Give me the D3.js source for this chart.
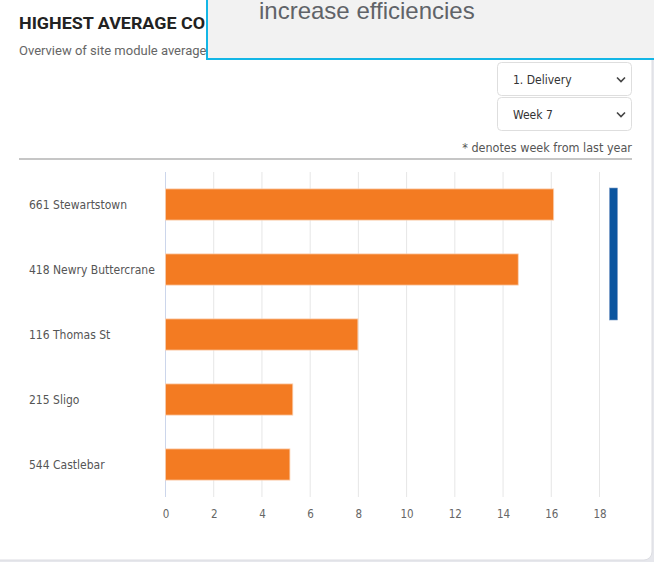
<!DOCTYPE html>
<html>
<head>
<meta charset="utf-8">
<script src="https://cdn.jsdelivr.net/npm/d3@7"></script>
<style>
  html, body { margin: 0; padding: 0; background: #e6e7ec; overflow: hidden; }
  svg { display: block; }
</style>
</head>
<body>
<div id="chart"></div>
<script>
// Data
const sites = ['661 Stewartstown', '418 Newry Buttercrane', '116 Thomas St', '215 Sligo', '544 Castlebar'];
const averages = [16.1, 14.63, 7.98, 5.28, 5.16];
const xTicks = [0, 2, 4, 6, 8, 10, 12, 14, 16, 18];
const moduleOptions = ['1. Delivery'];
const weekOptions = ['Week 7'];

const width = 654;
const height = 562;
const labelFont = '"DejaVu Sans Condensed", "Liberation Sans Narrow", sans-serif';

const svg = d3.select('#chart')
  .append('svg')
  .attr('width', width)
  .attr('height', height);

// Card
svg.append('rect')
  .attr('x', -10)
  .attr('y', -10)
  .attr('width', 662)
  .attr('height', 570)
  .attr('rx', 8)
  .attr('fill', '#fff')
  .attr('stroke', '#dcdde2');

// Header
svg.append('text')
  .attr('x', 19)
  .attr('y', 29)
  .attr('font-family', 'Roboto, sans-serif')
  .attr('font-weight', 700)
  .attr('font-size', 16.5)
  .attr('fill', '#222')
  .attr('textLength', 186)
  .attr('lengthAdjust', 'spacingAndGlyphs')
  .text('HIGHEST AVERAGE CO');

svg.append('text')
  .attr('x', 19)
  .attr('y', 55)
  .attr('font-family', 'Roboto, sans-serif')
  .attr('font-size', 13)
  .attr('fill', '#666')
  .text('Overview of site module average');

// Dropdowns
const selects = [
  { y: 62.5, text: moduleOptions[0] },
  { y: 97.5, text: weekOptions[0] },
];
const sel = svg.selectAll('.sel')
  .data(selects)
  .enter().append('g')
  .attr('class', 'sel');
sel.append('rect')
  .attr('x', 497.5)
  .attr('y', d => d.y)
  .attr('width', 134)
  .attr('height', 33)
  .attr('rx', 4)
  .attr('fill', '#fff')
  .attr('stroke', '#dedede');
sel.append('text')
  .attr('x', 513)
  .attr('y', d => d.y + 21)
  .attr('font-family', labelFont)
  .attr('font-size', 12)
  .attr('fill', '#333')
  .text(d => d.text);
sel.append('path')
  .attr('d', d => `M617,${d.y + 15}l4,4l4,-4`)
  .attr('fill', 'none')
  .attr('stroke', '#444')
  .attr('stroke-width', 1.6);

svg.append('text')
  .attr('x', 632)
  .attr('y', 152)
  .attr('text-anchor', 'end')
  .attr('font-family', labelFont)
  .attr('font-size', 12.5)
  .attr('fill', '#555')
  .text('* denotes week from last year');

svg.append('line')
  .attr('x1', 19)
  .attr('x2', 632)
  .attr('y1', 159)
  .attr('y2', 159)
  .attr('stroke', '#c6c6c6')
  .attr('stroke-width', 2);

// Scales
const x = d3.scaleLinear().domain([0, 18]).range([165.5, 599.5]);
const y = d3.scaleBand().domain(sites).range([172, 497])
  .paddingInner(0.52)
  .paddingOuter(0.26);

// Grid lines
svg.append('g')
  .selectAll('line')
  .data(xTicks)
  .enter().append('line')
  .attr('x1', d => x(d))
  .attr('x2', d => x(d))
  .attr('y1', 172)
  .attr('y2', 497)
  .attr('stroke', d => (d === 0 ? '#ccd6eb' : '#e6e6e6'))
  .attr('stroke-width', 1);

// X axis
const xAxis = svg.append('g')
  .attr('transform', 'translate(0,497)')
  .call(d3.axisBottom(x).tickValues(xTicks).tickSize(0).tickPadding(13));
xAxis.select('.domain').remove();
xAxis.selectAll('text')
  .attr('font-family', labelFont)
  .attr('font-size', 11.5)
  .attr('fill', '#666');

// Category labels
svg.append('g')
  .selectAll('text')
  .data(sites)
  .enter().append('text')
  .attr('x', 29)
  .attr('y', d => y(d) + y.bandwidth() / 2)
  .attr('dy', '0.35em')
  .attr('font-family', labelFont)
  .attr('font-size', 12)
  .attr('fill', '#555')
  .text(d => d);

// Bars
svg.append('g')
  .selectAll('rect')
  .data(averages)
  .enter().append('rect')
  .attr('x', x(0))
  .attr('y', (d, i) => y(sites[i]))
  .attr('width', d => x(d) - x(0))
  .attr('height', y.bandwidth())
  .attr('fill', '#f37b22')
  .attr('stroke', '#fbd2b4')
  .attr('stroke-width', 0.8);

// Scrollbar
svg.append('rect')
  .attr('x', 609.5)
  .attr('y', 188)
  .attr('width', 8)
  .attr('height', 132)
  .attr('fill', '#0b559f')
  .attr('stroke', '#7a9cc6')
  .attr('stroke-width', 0.6);

// Overlay box
svg.append('rect')
  .attr('x', 207)
  .attr('y', -10)
  .attr('width', 460)
  .attr('height', 69)
  .attr('fill', '#f2f2f2')
  .attr('stroke', '#13b6e6')
  .attr('stroke-width', 2);

svg.append('text')
  .attr('x', 259)
  .attr('y', 19)
  .attr('font-family', '"Liberation Sans", Arial, sans-serif')
  .attr('font-size', 24)
  .attr('fill', '#606368')
  .text('increase efficiencies');
</script>
</body>
</html>
